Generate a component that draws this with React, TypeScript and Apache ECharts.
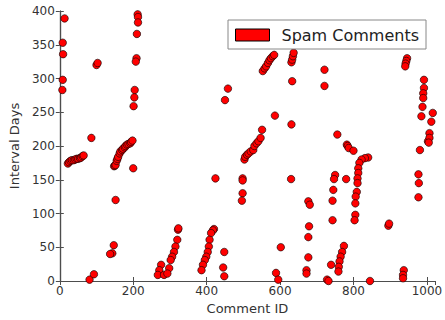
import React, { useEffect, useRef } from "react";
import * as echarts from "echarts";

const seriesName = "Spam Comments";
const xTicks = [0, 200, 400, 600, 800, 1000];
const yTicks = [0, 50, 100, 150, 200, 250, 300, 350, 400];
const xMax = 1022;

const commentId = [
  13, 8, 9, 8, 7,
  100, 103, 86,
  212, 213, 213, 210, 209, 207, 204, 203, 201, 200,
  148, 150, 152, 155, 157, 159, 163, 165, 170, 172, 177, 179, 183, 187, 192, 194, 198,
  22, 25, 29, 33, 38, 42, 46, 50, 55, 58, 62, 65,
  152, 147, 143, 137, 81, 93,
  322, 323, 320, 315, 311, 306, 302, 298, 276, 271, 267, 284, 293,
  420, 417, 412, 408, 406, 403, 399, 395, 390, 386,
  448, 445, 448, 424, 458, 450,
  498, 498, 498, 496,
  503, 505, 510, 514, 520, 527, 530, 536, 541, 547, 551,
  553, 558, 562, 567, 571, 575, 580, 584,
  631, 633, 635, 637, 633, 631, 586, 602, 589, 595, 630,
  677, 681, 679, 677, 677, 672, 672,
  721, 721, 728, 732,
  750, 747, 745, 743, 743, 739, 756, 780,
  774, 769, 765, 762, 760, 759,
  782, 784, 787, 800,
  840, 831, 822, 816, 813, 813, 811, 811, 809, 806, 805, 805, 803,
  845,
  895, 897,
  937, 935, 935,
  946, 944, 942, 941,
  977, 978, 977,
  992, 992, 990, 990, 988, 985,
  981, 1003, 1007, 1007, 1005, 1016, 1012,
];

const intervalDays = [
  389, 353, 336, 298, 283,
  320, 323, 212,
  395, 391, 383, 366, 330, 325, 283, 272, 259, 167,
  170, 171, 172, 178, 181, 184, 189, 192, 194, 196, 198, 200, 202, 203, 204, 206, 208,
  174, 176, 178, 179, 179, 180, 181, 181, 182, 183, 185, 186,
  120, 53, 41, 40, 2, 10,
  76, 78, 61, 51, 43, 36, 31, 19, 24, 16, 9, 9, 11,
  77, 75, 71, 61, 51, 43, 36, 31, 24, 16,
  43, 20, 7, 152, 285, 268,
  152, 149, 130, 119,
  180, 184, 187, 189, 192, 194, 200, 204, 207, 212, 224,
  311, 315, 318, 323, 327, 330, 333, 335,
  324, 328, 333, 338, 296, 232, 245, 50, 12, 2, 151,
  118, 113, 81, 65, 35, 16, 11,
  313, 289, 2, 0,
  157, 151, 135, 119, 90, 24, 217, 151,
  52, 43, 36, 29, 21, 14,
  202, 200, 197, 193,
  183, 182, 180, 175, 167, 160, 152, 145, 132, 125, 115, 98, 90,
  0,
  82, 85,
  16, 9, 4,
  330, 326, 322, 318,
  158, 145, 124,
  298, 286, 278, 271, 258, 244,
  194, 207, 219, 212, 205, 249, 236,
];

const FONT = "DejaVu Sans";
const LINE = "#4d4d4d";
const TEXT = "#333333";

export default function App() {
  const ref = useRef<HTMLDivElement>(null);
  useEffect(() => {
    if (!ref.current) return;
    const chart = echarts.init(ref.current, undefined, { renderer: "svg" });
    const data = commentId.map((x, i) => [x, intervalDays[i]]);
    const axisLine = { show: true, lineStyle: { color: LINE, width: 1.2 } };
    const tick = { show: true, inside: true, length: 4, lineStyle: { color: LINE, width: 1 } };
    chart.setOption({
      animation: false,
      backgroundColor: "#ffffff",
      grid: { left: 52, right: 6, top: 11, bottom: 39, containLabel: false },
      legend: {
        show: true,
        data: [seriesName],
        left: 228,
        top: 20,
        orient: "horizontal",
        icon: "rect",
        itemWidth: 34,
        itemHeight: 12,
        itemStyle: { color: "#ff0000", borderColor: "#000000", borderWidth: 1 },
        padding: [7, 7, 6, 7],
        borderColor: "#888888",
        borderWidth: 1,
        borderRadius: 0,
        backgroundColor: "#ffffff",
        textStyle: {
          fontFamily: FONT,
          fontSize: 16,
          color: "#222222",
          lineHeight: 16,
          padding: [0, 0, 0, 7],
        },
      },
      xAxis: [
        {
          type: "value",
          position: "bottom",
          min: 0,
          max: xMax,
          interval: 200,
          name: "Comment ID",
          nameLocation: "middle",
          nameGap: 20,
          nameTextStyle: { fontFamily: FONT, fontSize: 13, color: TEXT },
          axisLine,
          axisTick: tick,
          splitLine: { show: false },
          axisLabel: {
            fontFamily: FONT,
            fontSize: 12,
            color: TEXT,
            margin: 4,
            showMaxLabel: false,
            formatter: (v: number) => (xTicks.includes(v) ? String(v) : ""),
          },
        },
        {
          type: "value",
          position: "top",
          min: 0,
          max: xMax,
          interval: 200,
          axisLine,
          axisTick: tick,
          splitLine: { show: false },
          axisLabel: { show: false },
        },
      ],
      yAxis: [
        {
          type: "value",
          position: "left",
          min: 0,
          max: 400,
          interval: 50,
          name: "Interval Days",
          nameLocation: "middle",
          nameGap: 37,
          nameTextStyle: { fontFamily: FONT, fontSize: 13, color: TEXT },
          axisLine,
          axisTick: tick,
          splitLine: { show: false },
          axisLabel: {
            fontFamily: FONT,
            fontSize: 12,
            color: TEXT,
            margin: 5,
            formatter: (v: number) => (yTicks.includes(v) ? String(v) : ""),
          },
        },
        {
          type: "value",
          position: "right",
          min: 0,
          max: 400,
          interval: 50,
          axisLine,
          axisTick: tick,
          splitLine: { show: false },
          axisLabel: { show: false },
        },
      ],
      series: [
        {
          name: seriesName,
          type: "scatter",
          xAxisIndex: 0,
          yAxisIndex: 0,
          data,
          symbol: "circle",
          symbolSize: 7.5,
          itemStyle: { color: "#ff0000", borderColor: "#000000", borderWidth: 0.6, opacity: 1 },
        },
      ],
    });
    return () => chart.dispose();
  }, []);
  return (
    <div
      ref={ref}
      style={{ position: "absolute", left: 0, top: 0, width: 445, height: 320 }}
    />
  );
}
